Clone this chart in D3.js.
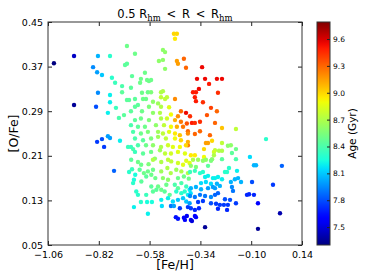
<!DOCTYPE html>
<html>
<head>
<meta charset="utf-8">
<script src="https://cdn.jsdelivr.net/npm/d3@7"></script>
<style>
  body { margin: 0; background: #fff; }
  svg { display: block; font-family: "DejaVu Sans", sans-serif; }
</style>
</head>
<body>
<script>
const width = 374;
const height = 280;

// [Fe/H] of each star
const feH = [
  -1.032,-0.937,-0.937,-0.824,-0.767,-0.847,-0.828,-0.805,-0.824,-0.833,-0.767,-0.767,
  -0.777,-0.739,-0.758,-0.743,-0.710,-0.710,-0.725,-0.701,-0.687,-0.649,-0.696,-0.687,
  -0.663,-0.621,-0.602,-0.625,-0.592,-0.583,-0.573,-0.668,-0.517,-0.507,-0.536,-0.517,
  -0.507,-0.465,-0.451,-0.460,-0.418,-0.451,-0.446,-0.408,-0.332,-0.356,-0.318,-0.299,
  -0.347,-0.375,-0.361,-0.257,-0.366,-0.361,-0.328,-0.262,-0.238,
  -0.828,-0.805,-0.795,-0.777,-0.767,-0.720,-0.748,-0.682,-0.658,-0.677,-0.663,-0.654,-0.654,
  -0.030,-0.106,-0.087,-0.077,0.045,-0.096,0.003,-0.120,-0.110,-0.087,-0.068,0.036,-0.068,
  -0.238,-0.210,-0.196,-0.172,-0.191,-0.238,-0.271,-0.252,-0.238,-0.172,-0.205,-0.224,
  -0.214,-0.167,-0.257,-0.271,-0.238,-0.196,-0.177,-0.162,-0.148,-0.262,-0.248,-0.271,
  -0.191,-0.186,-0.257,-0.271,-0.224,-0.200,-0.266,-0.248,-0.229,-0.210,-0.172,-0.257,-0.214,
  -0.290,-0.309,-0.262,-0.380,-0.366,-0.342,-0.271,-0.399,-0.366,-0.342,-0.295,-0.238,
  -0.172,-0.399,-0.314,-0.304,-0.285,-0.323,-0.276,-0.385,-0.366,-0.323,-0.276,-0.285,
  -0.588,-0.573,-0.526,-0.517,-0.616,-0.526,-0.507,-0.498,-0.611,-0.649,-0.597,-0.460,-0.687,-0.677,
  -0.564,-0.540,-0.649,-0.635,-0.583,-0.526,-0.488,-0.432,-0.408,
  -0.668,-0.616,-0.564,-0.531,-0.479,-0.446,-0.389,
  -0.649,-0.621,-0.583,-0.526,-0.498,-0.460,-0.432,-0.404,
  -0.668,-0.635,-0.602,-0.550,-0.512,-0.479,-0.451,-0.422,
  -0.658,-0.621,-0.588,-0.540,-0.517,-0.488,-0.460,-0.437,-0.399,
  -0.649,-0.611,-0.573,-0.540,-0.503,-0.460,-0.432,-0.399,
  -0.668,-0.635,-0.597,-0.564,-0.526,-0.493,-0.470,-0.437,-0.408,
  -0.649,-0.611,-0.573,-0.531,-0.507,-0.479,-0.446,-0.413,-0.555,
  -0.667,-0.635,-0.620,-0.585,-0.564,-0.525,-0.493,-0.478,-0.446,-0.422,-0.407,-0.391,
  -0.627,-0.607,-0.588,-0.564,-0.525,-0.496,-0.480,-0.454,-0.430,-0.399,
  -0.648,-0.596,-0.572,-0.553,-0.517,-0.493,-0.446,-0.418,-0.395,
  -0.658,-0.619,-0.572,-0.540,-0.525,-0.501,-0.461,-0.446,-0.430,-0.407,-0.391,
  -0.643,-0.635,-0.596,-0.564,-0.548,-0.509,-0.485,-0.454,-0.430,-0.414,-0.399,-0.386,
  -0.525,-0.493,-0.470,-0.446,-0.422,-0.407,-0.391,
  -0.456,-0.446,-0.418,-0.413,-0.404,-0.385,-0.380,-0.366,-0.361,-0.318,-0.347,-0.437,-0.479,-0.465,-0.522,-0.588,-0.621,-0.592,-0.569,-0.399,
  -0.375,-0.351,-0.328,-0.314,-0.290,-0.385,-0.361,-0.304,-0.389,-0.366,-0.342,-0.328,
  -0.318,-0.304,-0.281,-0.337,-0.314,-0.290,-0.385,-0.361,-0.337,-0.304,-0.281,
  -0.389,-0.366,-0.342,-0.318,-0.290,-0.351,-0.328,-0.290,-0.385,-0.366
];

// [O/Fe] of each star
const oFe = [
  0.376,0.389,0.301,0.389,0.389,0.369,0.360,0.355,0.323,0.298,0.319,0.306,
  0.287,0.296,0.350,0.341,0.335,0.324,0.278,0.283,0.407,0.393,0.373,0.375,
  0.353,0.348,0.359,0.341,0.346,0.344,0.346,0.332,0.400,0.396,0.380,0.382,
  0.366,0.429,0.429,0.420,0.384,0.380,0.375,0.368,0.369,0.348,0.348,0.339,
  0.330,0.324,0.324,0.323,0.315,0.308,0.306,0.348,0.348,
  0.235,0.240,0.226,0.245,0.242,0.237,0.183,0.226,0.222,0.181,0.186,0.167,0.118,
  0.240,0.208,0.193,0.193,0.192,0.163,0.158,0.140,0.141,0.140,0.125,0.107,0.079,
  0.233,0.228,0.229,0.222,0.215,0.219,0.220,0.219,0.204,0.204,0.188,0.181,
  0.181,0.183,0.172,0.170,0.168,0.163,0.168,0.170,0.163,0.160,0.156,0.152,
  0.154,0.147,0.143,0.140,0.132,0.131,0.124,0.122,0.122,0.122,0.125,0.115,0.113,
  0.296,0.283,0.290,0.269,0.269,0.271,0.269,0.254,0.249,0.254,0.247,0.260,
  0.258,0.229,0.233,0.233,0.237,0.222,0.217,0.211,0.211,0.208,0.211,0.204,
  0.324,0.324,0.324,0.326,0.323,0.315,0.312,0.315,0.312,0.312,0.312,0.312,0.310,0.310,
  0.307,0.304,0.298,0.301,0.298,0.298,0.297,0.290,0.287,
  0.290,0.290,0.287,0.287,0.284,0.281,0.281,
  0.274,0.277,0.274,0.277,0.277,0.274,0.271,0.268,
  0.265,0.262,0.262,0.265,0.265,0.262,0.262,0.262,
  0.253,0.250,0.253,0.253,0.250,0.253,0.250,0.247,0.250,
  0.241,0.238,0.241,0.244,0.241,0.241,0.238,0.235,
  0.226,0.229,0.229,0.229,0.226,0.229,0.226,0.226,0.229,
  0.217,0.214,0.217,0.220,0.214,0.214,0.217,0.214,0.205,
  0.203,0.199,0.194,0.195,0.203,0.199,0.203,0.200,0.197,0.194,0.201,0.197,
  0.185,0.179,0.182,0.185,0.182,0.188,0.179,0.185,0.182,0.179,
  0.176,0.173,0.176,0.170,0.170,0.167,0.170,0.173,0.169,
  0.161,0.164,0.155,0.155,0.149,0.158,0.158,0.152,0.161,0.155,0.149,
  0.146,0.140,0.140,0.146,0.149,0.146,0.140,0.146,0.143,0.146,0.140,0.143,
  0.131,0.134,0.128,0.131,0.134,0.128,0.125,
  0.100,0.097,0.099,0.095,0.102,0.095,0.093,0.102,0.100,0.082,0.116,0.116,0.120,0.120,0.120,0.106,0.127,0.127,0.127,0.118,
  0.203,0.203,0.201,0.203,0.201,0.192,0.190,0.192,0.181,0.183,0.179,0.181,
  0.172,0.174,0.170,0.161,0.163,0.160,0.152,0.154,0.150,0.152,0.154,
  0.138,0.136,0.140,0.138,0.136,0.127,0.129,0.125,0.116,0.113
];

// stellar age (Gyr)
const ageGyr = [
  7.30,7.45,7.35,8.05,8.30,7.95,8.00,8.10,7.95,7.80,8.20,8.20,
  8.20,8.35,8.30,8.35,8.40,8.45,8.40,8.45,8.50,8.50,8.45,8.45,
  8.45,8.50,8.50,8.50,8.50,8.50,8.50,8.45,8.60,8.60,8.60,8.60,
  8.60,9.00,9.00,8.95,9.30,9.15,9.15,9.30,9.55,9.55,9.55,9.50,
  9.55,9.50,9.50,9.45,9.50,9.50,9.45,9.55,9.55,
  7.75,7.80,7.75,8.00,8.00,8.20,7.85,8.35,8.40,8.30,8.35,8.25,8.20,
  8.30,8.15,8.05,8.05,7.85,7.80,7.75,7.70,7.70,7.70,7.60,7.40,7.35,
  8.75,8.60,8.60,8.50,8.45,8.70,8.75,8.70,8.45,8.40,8.30,8.30,
  8.30,8.20,8.20,8.20,8.20,8.05,8.05,8.05,8.05,8.05,8.05,8.00,
  7.95,7.90,7.85,7.85,7.80,7.80,7.75,7.75,7.75,7.75,7.75,7.70,7.70,
  9.40,9.35,9.30,9.50,9.45,9.45,9.30,9.30,9.30,9.30,9.30,9.05,
  8.75,9.25,9.15,9.15,9.00,9.00,8.80,8.95,8.95,8.90,8.70,8.60,
  8.50,8.55,8.70,8.70,8.50,8.75,8.75,8.75,8.50,8.45,8.50,9.20,8.45,8.45,
  8.60,8.65,8.45,8.45,8.55,8.70,8.85,9.30,9.55,
  8.45,8.50,8.60,8.70,8.90,9.20,9.45,
  8.45,8.50,8.55,8.70,8.80,9.10,9.25,9.35,
  8.40,8.45,8.50,8.60,8.75,8.90,9.10,9.25,
  8.40,8.50,8.55,8.65,8.75,8.85,8.95,9.05,9.20,
  8.40,8.45,8.55,8.65,8.75,8.90,9.00,9.10,
  8.35,8.40,8.50,8.60,8.70,8.80,8.85,8.90,9.00,
  8.35,8.45,8.50,8.65,8.75,8.80,8.85,8.85,8.60,
  8.45,8.50,8.50,8.55,8.70,8.70,8.75,8.75,8.80,8.85,8.85,8.85,
  8.45,8.50,8.50,8.50,8.65,8.70,8.70,8.65,8.70,8.70,
  8.25,8.45,8.50,8.50,8.60,8.60,8.50,8.50,8.50,
  8.30,8.45,8.45,8.50,8.50,8.50,8.40,8.45,8.40,8.35,8.20,
  8.30,8.30,8.35,8.45,8.45,8.45,8.45,8.30,8.30,8.30,8.20,8.15,
  8.20,8.20,8.15,8.10,8.10,8.10,8.00,
  7.65,7.65,7.60,7.60,7.55,7.55,7.50,7.60,7.60,7.35,7.70,7.75,7.90,8.00,8.15,8.20,8.30,8.25,8.25,7.75,
  8.70,8.65,8.60,8.60,8.55,8.60,8.55,8.45,8.35,8.35,8.30,8.30,
  8.20,8.20,8.20,8.15,8.15,8.15,8.05,8.05,8.05,8.00,8.00,
  7.95,7.90,7.90,7.90,7.95,7.75,7.75,7.80,7.75,7.70
];

const xTicks = [-1.06, -0.82, -0.58, -0.34, -0.10, 0.14];
const yTicks = [0.05, 0.13, 0.21, 0.29, 0.37, 0.45];
const ageTicks = [7.5, 7.8, 8.1, 8.4, 8.7, 9.0, 9.3, 9.6];
const ageRange = [7.30, 9.79];

const plot = { left: 48, right: 302, top: 22, bottom: 245 };
const bar = { left: 317, right: 330 };

const svg = d3.select("body").append("svg")
    .attr("width", width)
    .attr("height", height);

svg.append("rect").attr("width", width).attr("height", height).attr("fill", "#fff");

const x = d3.scaleLinear().domain([xTicks[0], xTicks[xTicks.length - 1]]).range([plot.left, plot.right]);
const y = d3.scaleLinear().domain([yTicks[0], yTicks[yTicks.length - 1]]).range([plot.bottom, plot.top]);
const ageY = d3.scaleLinear().domain(ageRange).range([plot.bottom, plot.top]);
const ageNorm = d3.scaleLinear().domain(ageRange).range([0, 1]).clamp(true);

// matplotlib "jet"
const jetR = d3.scaleLinear().domain([0, 0.35, 0.66, 0.89, 1]).range([0, 0, 1, 1, 0.5]).clamp(true);
const jetG = d3.scaleLinear().domain([0, 0.125, 0.375, 0.64, 0.91, 1]).range([0, 0, 1, 1, 0, 0]).clamp(true);
const jetB = d3.scaleLinear().domain([0, 0.11, 0.34, 0.65, 1]).range([0.5, 1, 1, 0, 0]).clamp(true);
function jet(t) {
    return d3.rgb(jetR(t) * 255, jetG(t) * 255, jetB(t) * 255).formatHex();
}

const fmt = d3.format(".2f");

// points
const n = Math.min(feH.length, oFe.length, ageGyr.length);
const stars = d3.range(n).map(i => ({ fe: feH[i], ofe: oFe[i], age: ageGyr[i] }));

svg.append("g")
    .selectAll("circle")
    .data(stars)
    .join("circle")
    .attr("cx", d => x(d.fe))
    .attr("cy", d => y(d.ofe))
    .attr("r", 2.2)
    .attr("fill", d => jet(ageNorm(d.age)));

// axes (ticks pointing in, on all four sides)
function styleAxis(g, size) {
    g.select(".domain").remove();
    g.selectAll(".tick line").attr("stroke", "#222");
    g.selectAll(".tick text").attr("fill", "#000").style("font-size", size + "px")
        .style("font-family", "'DejaVu Sans', sans-serif");
}

svg.append("g")
    .attr("transform", `translate(0,${plot.bottom})`)
    .call(d3.axisBottom(x).tickValues(xTicks).tickFormat(fmt).tickSize(-4).tickPadding(6))
    .call(g => styleAxis(g, 9.5));
svg.append("g")
    .attr("transform", `translate(0,${plot.top})`)
    .call(d3.axisTop(x).tickValues(xTicks).tickFormat("").tickSize(-4))
    .call(g => styleAxis(g, 9.5));
svg.append("g")
    .attr("transform", `translate(${plot.left},0)`)
    .call(d3.axisLeft(y).tickValues(yTicks).tickFormat(fmt).tickSize(-4).tickPadding(5))
    .call(g => styleAxis(g, 9.5));
svg.append("g")
    .attr("transform", `translate(${plot.right},0)`)
    .call(d3.axisRight(y).tickValues(yTicks).tickFormat("").tickSize(-4))
    .call(g => styleAxis(g, 9.5));

svg.append("rect")
    .attr("x", plot.left).attr("y", plot.top)
    .attr("width", plot.right - plot.left).attr("height", plot.bottom - plot.top)
    .attr("fill", "none").attr("stroke", "#333").attr("stroke-width", 1);

// title
const title = svg.append("text")
    .attr("x", (plot.left + plot.right) / 2)
    .attr("y", 18)
    .attr("text-anchor", "middle")
    .style("font-size", "11.5px");
title.append("tspan").text("0.5 R");
title.append("tspan").attr("dy", 3).style("font-family", "'DejaVu Serif', serif").style("font-size", "8.5px").text("hm");
title.append("tspan").attr("dy", -3).text("\u2002<\u2002R\u2002<\u2002R");
title.append("tspan").attr("dy", 3).style("font-family", "'DejaVu Serif', serif").style("font-size", "8.5px").text("hm");

// axis labels
svg.append("text")
    .attr("x", (plot.left + plot.right) / 2)
    .attr("y", 269)
    .attr("text-anchor", "middle")
    .style("font-size", "12.5px")
    .text("[Fe/H]");
svg.append("text")
    .attr("transform", `translate(17.5,${(plot.top + plot.bottom) / 2}) rotate(-90)`)
    .attr("text-anchor", "middle")
    .style("font-size", "12.5px")
    .text("[O/Fe]");

// colour bar
const grad = svg.append("defs").append("linearGradient")
    .attr("id", "jet")
    .attr("x1", 0).attr("y1", 1).attr("x2", 0).attr("y2", 0);
grad.selectAll("stop")
    .data(d3.range(0, 1.0001, 0.02))
    .join("stop")
    .attr("offset", d => d)
    .attr("stop-color", d => jet(d));

svg.append("rect")
    .attr("x", bar.left).attr("y", plot.top)
    .attr("width", bar.right - bar.left).attr("height", plot.bottom - plot.top)
    .attr("fill", "url(#jet)")
    .attr("stroke", "#333").attr("stroke-width", 1);

svg.append("g")
    .attr("transform", `translate(${bar.right},0)`)
    .call(d3.axisRight(ageY).tickValues(ageTicks).tickFormat(d3.format(".1f")).tickSize(-3).tickPadding(3))
    .call(g => styleAxis(g, 7.5));

svg.append("text")
    .attr("transform", `translate(356,${(plot.top + plot.bottom) / 2}) rotate(-90)`)
    .attr("text-anchor", "middle")
    .style("font-size", "10.5px")
    .text("Age (Gyr)");
</script>
</body>
</html>
